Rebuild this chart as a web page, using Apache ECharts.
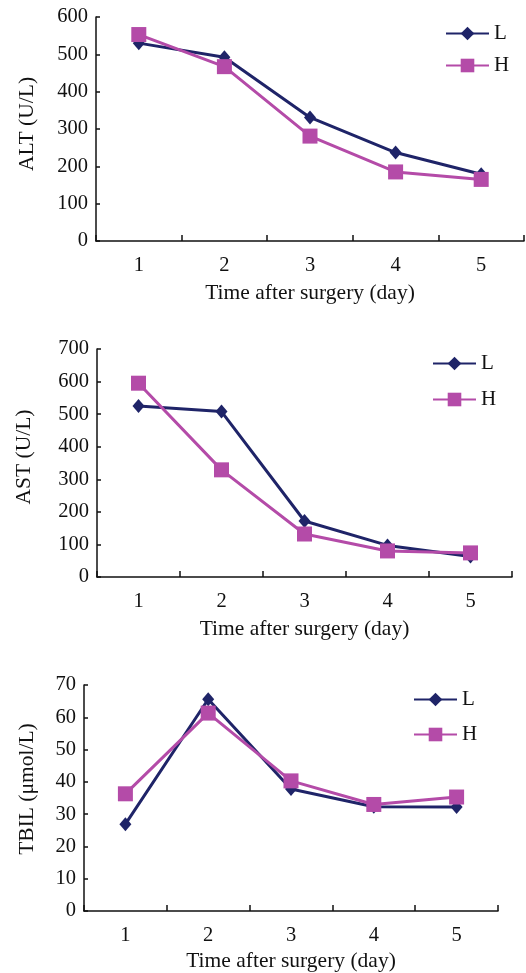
<!DOCTYPE html>
<html><head><meta charset="utf-8">
<script src="https://cdn.jsdelivr.net/npm/echarts@6/dist/echarts.min.js"></script>
<style>html,body{margin:0;padding:0;background:#fff}#c{width:526px;height:973px}</style>
</head><body><div id="c"></div>
<script>
const days = ['1','2','3','4','5'];
const altL = [530, 492, 331, 237, 179];
const altH = [553, 467, 281, 185, 165];
const astL = [525, 508, 172, 97, 63];
const astH = [595, 329, 132, 80, 74];
const tbilL = [26.9, 65.6, 37.8, 32.3, 32.2];
const tbilH = [36.3, 61.3, 40.3, 33.0, 35.3];
const yNames = ['ALT (U/L)', 'AST (U/L)', 'TBIL (μmol/L)'];
const yMax = [600, 700, 70];
const yInt = [100, 100, 10];
const xName = 'Time after surgery (day)';

const NAVY = '#1f2468';
const MAG = '#b44ba8';
const FONT = '"Liberation Serif","Times New Roman",serif';

const grids = [
  {left: 96, top: 17, width: 428, height: 224},
  {left: 97, top: 349, width: 415, height: 228},
  {left: 84, top: 685, width: 414, height: 228}
];
const nameGaps = [58, 62, 46];
const nameShift = [10, 12, 18];
const legendPos = [
  {left: 445, top: 23, itemGap: 11},
  {left: 432, top: 353, itemGap: 15},
  {left: 413, top: 689, itemGap: 14}
];
const seriesData = [[altL, altH], [astL, astH], [tbilL, tbilH]];

const axisLine = {show: true, lineStyle: {color: '#111', width: 1.5}};
const option = {
  backgroundColor: '#fff',
  animation: false,
  grid: grids,
  legend: legendPos.map(p => ({
    data: ['L', 'H'], orient: 'vertical', left: p.left, top: p.top,
    itemGap: p.itemGap, itemWidth: 43, itemHeight: 17,
    textStyle: {fontFamily: FONT, fontSize: 21, color: '#111'},
    padding: 0
  })),
  xAxis: grids.map((g, i) => ({
    type: 'category', gridIndex: i, data: days, boundaryGap: true,
    name: xName, nameLocation: 'middle', nameGap: i === 2 ? 39 : 41,
    nameTextStyle: {fontFamily: FONT, fontSize: 21.5, color: '#111'},
    axisLine: axisLine,
    axisTick: {show: true, inside: true, length: 6, lineStyle: {color: '#111', width: 1.5}},
    axisLabel: {fontFamily: FONT, fontSize: 20.5, color: '#111', margin: 14},
    splitLine: {show: false}
  })),
  yAxis: grids.map((g, i) => ({
    type: 'value', gridIndex: i, min: 0, max: yMax[i], interval: yInt[i],
    name: yNames[i], nameLocation: 'middle', nameGap: nameGaps[i], nameRotate: 90,
    nameTextStyle: {fontFamily: FONT, fontSize: 21.5, color: '#111', padding: [0, 0, 0, nameShift[i]]},
    axisLine: axisLine,
    axisTick: {show: true, inside: true, length: 4, lineStyle: {color: '#111', width: 1.5}},
    axisLabel: {fontFamily: FONT, fontSize: 20.5, color: '#111', margin: 8},
    splitLine: {show: false}
  })),
  series: []
};
seriesData.forEach((pair, i) => {
  option.series.push({
    name: 'L', type: 'line', xAxisIndex: i, yAxisIndex: i, data: pair[0],
    symbol: 'diamond', symbolSize: [12, 14],
    lineStyle: {color: NAVY, width: 3}, itemStyle: {color: NAVY}, z: 2
  });
  option.series.push({
    name: 'H', type: 'line', xAxisIndex: i, yAxisIndex: i, data: pair[1],
    symbol: 'rect', symbolSize: 15,
    lineStyle: {color: MAG, width: 3}, itemStyle: {color: MAG}, z: 3
  });
});
echarts.init(document.getElementById('c'), null, {renderer: 'canvas'}).setOption(option);
</script></body></html>
